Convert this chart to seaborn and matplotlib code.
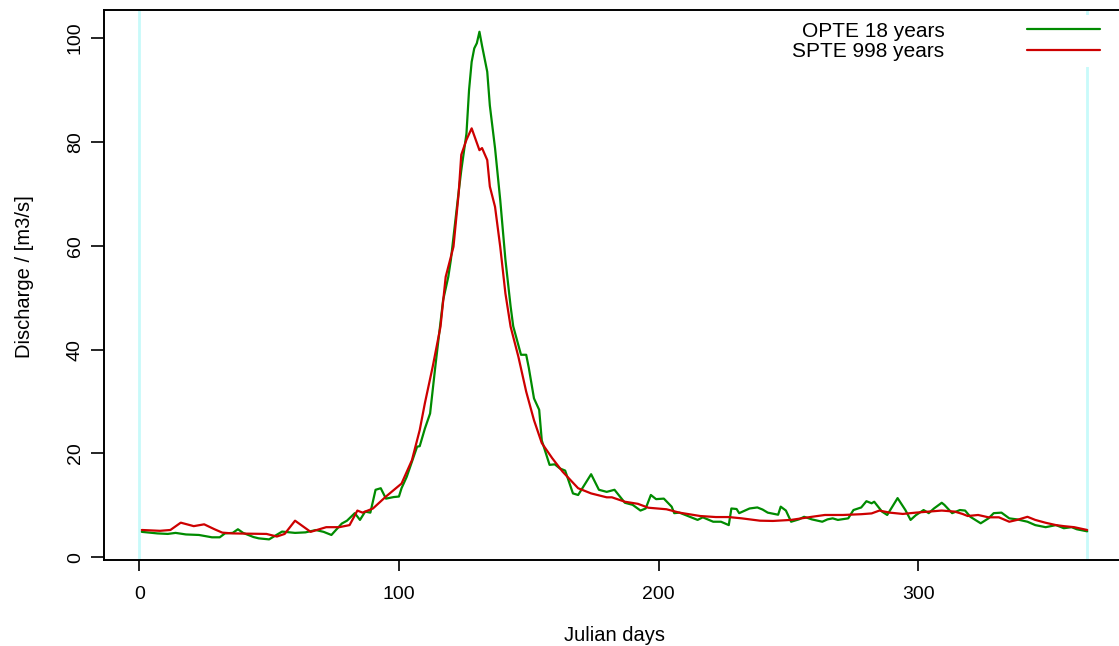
import matplotlib
matplotlib.use("Agg")
import matplotlib.pyplot as plt
import seaborn as sns
import pandas as pd

# mean daily discharge
opte_days = [1, 7, 11, 14, 18, 23, 28, 31, 33, 36, 38, 40, 44, 46, 50, 55, 60, 64, 68, 71,
             74, 78, 80, 83, 85, 87, 89, 91, 93, 95, 98, 100, 101, 103, 105, 107, 108, 110,
             112, 114, 117, 119, 120, 123, 124, 126, 127, 128, 129, 130, 131, 132, 134, 135,
             137, 139, 141, 143, 144, 147, 149, 150, 152, 154, 155, 158, 160, 162, 164, 167,
             169, 171, 174, 177, 180, 183, 187, 190, 193, 195, 197, 199, 202, 205, 206, 208,
             212, 215, 217, 221, 224, 227, 228, 230, 231, 235, 238, 240, 242, 246, 247, 249,
             251, 254, 256, 259, 263, 265, 267, 269, 273, 275, 278, 280, 282, 283, 286, 288,
             292, 295, 297, 299, 302, 304, 306, 309, 310, 313, 316, 318, 320, 324, 327, 329,
             332, 335, 338, 342, 345, 349, 353, 356, 359, 361, 365]
opte_q = [4.9, 4.6, 4.5, 4.7, 4.4, 4.3, 3.85, 3.85, 4.6, 4.7, 5.4, 4.7, 3.9, 3.65, 3.45, 4.95, 4.7, 4.8, 5.25, 4.9,
          4.3, 6.5, 7.05, 8.5, 7.2, 8.8, 8.6, 13.0, 13.3, 11.3, 11.6, 11.7, 13.3, 15.5, 18.4, 21.3, 21.4, 24.8,
          27.7, 36.7, 49.5, 54.0, 57.3, 70.4, 74.5, 81.6, 90.0, 95.4, 98.0, 99.0, 101.2, 98.5, 93.5, 87.0,
          78.8, 68.8, 57.3, 48.3, 44.5, 39.0, 39.0, 36.5, 30.6, 28.4, 22.5, 17.8, 17.9, 17.1, 16.7, 12.3,
          12.0, 13.6, 16.0, 13.0, 12.6, 13.0, 10.5, 10.1, 9.0, 9.4, 12.0, 11.2, 11.3, 9.75, 8.5, 8.6,
          7.8, 7.2, 7.7, 6.85, 6.85, 6.2, 9.4, 9.3, 8.5, 9.4, 9.6, 9.2, 8.6, 8.2, 9.75, 9.0,
          6.85, 7.3, 7.8, 7.3, 6.85, 7.3, 7.5, 7.2, 7.5, 9.1, 9.6, 10.8, 10.4, 10.7, 8.8, 8.15,
          11.4, 9.1, 7.2, 8.1, 9.1, 8.5, 9.4, 10.5, 10.1, 8.5, 9.1, 9.0, 7.8, 6.55, 7.5, 8.5,
          8.6, 7.5, 7.3, 6.85, 6.2, 5.8, 6.2, 5.6, 5.8, 5.4, 5.0]

spte_days = [1, 8, 12, 16, 21, 25, 29, 32, 36, 42, 49, 53, 56, 60, 66, 72, 77, 81, 84, 86,
             90, 95, 101, 105, 108, 110, 113, 116, 118, 121, 123, 124, 126, 128, 131, 132, 134, 135,
             137, 139, 141, 143, 146, 149, 152, 155, 159, 163, 166, 169, 174, 180, 182, 187, 192, 196,
             203, 208, 216, 222, 227, 232, 239, 244, 251, 259, 264, 271, 278, 282, 285, 289, 294, 299,
             304, 309, 314, 317, 319, 323, 327, 331, 335, 338, 342, 345, 349, 353, 356, 360, 365]
spte_q = [5.26, 5.1, 5.26, 6.67, 6.0, 6.35, 5.4, 4.75, 4.6, 4.55, 4.5, 4.0, 4.5, 7.05, 4.9, 5.8, 5.8, 6.2, 9.0, 8.6,
          9.4, 11.7, 14.2, 18.7, 24.5, 29.7, 36.7, 44.4, 54.0, 59.8, 70.1, 77.5, 80.4, 82.6, 78.4, 78.8, 76.5, 71.4,
          67.5, 59.8, 50.8, 44.4, 38.6, 31.9, 26.4, 22.0, 19.1, 16.5, 14.9, 13.3, 12.3, 11.55, 11.55, 10.7, 10.3, 9.55,
          9.25, 8.6, 7.95, 7.75, 7.75, 7.5, 7.05, 7.0, 7.2, 7.8, 8.15, 8.15, 8.3, 8.45, 9.0, 8.6, 8.35, 8.6,
          8.8, 9.0, 8.8, 8.35, 7.95, 8.15, 7.7, 7.7, 6.85, 7.2, 7.8, 7.2, 6.65, 6.2, 6.0, 5.8, 5.26]

x_ticks = [0, 100, 200, 300]
y_ticks = [0, 20, 40, 60, 80, 100]
year_bounds = [0, 365]

opte = pd.DataFrame({"day": opte_days, "q": opte_q})
spte = pd.DataFrame({"day": spte_days, "q": spte_q})

sns.set_theme(style="ticks")
plt.rcParams['font.family'] = ['Liberation Sans', 'DejaVu Sans']
plt.rcParams['text.color'] = 'black'
plt.rcParams['axes.labelcolor'] = 'black'
plt.rcParams['xtick.color'] = 'black'
plt.rcParams['ytick.color'] = 'black'

W, H = 1119, 646
fig = plt.figure(figsize=(W / 100, H / 100), dpi=100)
fig.patch.set_facecolor("white")
# plot box runs a little past the right edge, like the cropped original
ax = fig.add_axes([104 / W, (H - 560) / H, (1125 - 104) / W, 550 / H])
ax.set_facecolor("white")

for d in year_bounds:
    ax.axvline(d, color="#c8fafa", lw=2, zorder=1)

sns.lineplot(data=opte, x="day", y="q", color="#008b00", lw=1.6,
             label="OPTE 18 years", ax=ax, zorder=3)
sns.lineplot(data=spte, x="day", y="q", color="#cd0000", lw=1.6,
             label="SPTE 998 years", ax=ax, zorder=3)

ax.set_xlim(-13.56, 379.56)
ax.set_ylim(-0.52, 105.39)
ax.set_xticks(x_ticks)
ax.set_yticks(y_ticks)

for s in ["left", "top", "bottom"]:
    ax.spines[s].set_linewidth(1.4)
    ax.spines[s].set_color("black")
ax.spines["right"].set_visible(False)

ax.tick_params(axis="x", length=7.8, width=1.2, pad=11, labelsize=14, colors="black")
ax.tick_params(axis="y", length=9.5, width=1.2, pad=5, labelsize=14, colors="black")
for t in ax.get_yticklabels():
    t.set_rotation(90)
    t.set_va("center")

ax.set_xlabel("Julian days", fontsize=14.5, color="black", va="top")
ax.set_ylabel("Discharge / [m3/s]", fontsize=14.5, color="black")
ax.xaxis.set_label_coords(0.5, -0.12)
ax.yaxis.set_label_coords(-0.0686, 0.516)

leg = ax.legend(loc="upper right", bbox_to_anchor=(1106 / W, 1 - 15.3 / H),
                bbox_transform=fig.transFigure, fontsize=15, markerfirst=False,
                handlelength=3.5, handletextpad=3.95, labelspacing=0.08,
                borderpad=0.3, borderaxespad=0, frameon=True, fancybox=False,
                framealpha=1, facecolor="white", edgecolor="none",
                labelcolor="black")
leg.set_zorder(5)

fig.savefig("out.png", dpi=100)
